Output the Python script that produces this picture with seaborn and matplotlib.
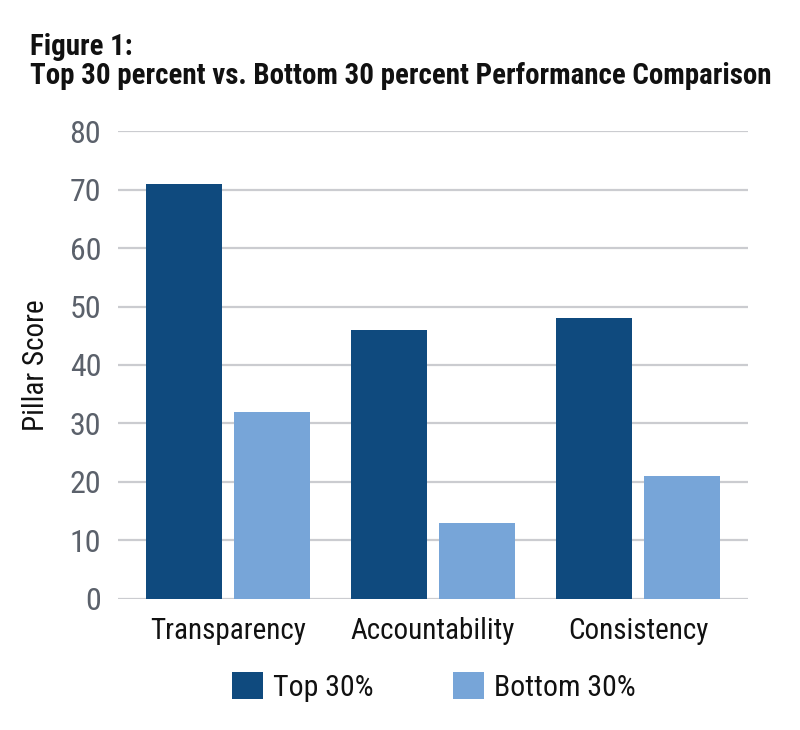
import matplotlib
matplotlib.use("Agg")
import matplotlib.pyplot as plt
import seaborn as sns
import pandas as pd
from matplotlib.patches import Patch
from matplotlib import font_manager as fm

categories = ["Transparency", "Accountability", "Consistency"]
groups = ["Top 30%", "Bottom 30%"]
top_values = [71, 46, 48]
bottom_values = [32, 13, 21]
y_ticks = [0, 10, 20, 30, 40, 50, 60, 70, 80]

colors = ["#0f4a7e", "#77a5d8"]

df = pd.DataFrame({
    "Pillar": categories * 2,
    "Group": [groups[0]] * 3 + [groups[1]] * 3,
    "Score": top_values + bottom_values,
})

# look for a condensed / narrow font installed on the system
def find_font(bold):
    keys = ["narrow", "condensed"]
    best = None
    for f in fm.fontManager.ttflist:
        fn = f.fname.lower()
        if not any(k in fn for k in keys):
            continue
        if "italic" in fn or "oblique" in fn:
            continue
        if any(k in fn for k in ["semibold", "light", "extra", "black", "medium", "thin"]):
            continue
        is_bold = "bold" in fn
        if is_bold == bold:
            pri = 0 if "liberation" in fn else (1 if "roboto" in fn else 2)
            if best is None or pri < best[0]:
                best = (pri, f.fname)
    return best[1] if best else None

reg_file = find_font(False)
bold_file = find_font(True)

sns.set_theme(style="white")
if reg_file:
    fp_reg = fm.FontProperties(fname=reg_file)
    fp_bold = fm.FontProperties(fname=bold_file) if bold_file else fm.FontProperties(fname=reg_file, weight="bold")
    plt.rcParams["font.family"] = [fp_reg.get_name(), "DejaVu Sans"]
else:
    plt.rcParams["font.family"] = ["Roboto", "DejaVu Sans"]
    fp_reg = fm.FontProperties(family=["Roboto", "DejaVu Sans"])
    fp_bold = fm.FontProperties(family=["Roboto", "DejaVu Sans"], weight="bold")

fig = plt.figure(figsize=(8, 7.3), dpi=100)
ax = fig.add_axes([0.1475, 0.1795, 0.7875, 0.641])

sns.barplot(data=df, x="Pillar", y="Score", hue="Group", order=categories,
            hue_order=groups, palette=colors, width=0.86, gap=0.14,
            saturation=1, ax=ax, legend=False, zorder=3, linewidth=0)

ax.set_ylim(0, 80)
ax.set_xlim(-0.537, 2.537)
ax.set_yticks(y_ticks)
ax.yaxis.grid(True, color="#cbccd0", linewidth=1.6, zorder=0)
ax.set_axisbelow(True)
for s in ax.spines.values():
    s.set_visible(False)
ax.tick_params(axis="both", length=0)
ax.tick_params(axis="y", labelcolor="#5b616b", pad=12)
ax.tick_params(axis="x", labelcolor="#111111", pad=13)
for lab in ax.get_yticklabels():
    lab.set_fontproperties(fp_reg)
    lab.set_fontsize(23)
for lab in ax.get_xticklabels():
    lab.set_fontproperties(fp_reg)
    lab.set_fontsize(21)
ax.set_xlabel("")
ax.set_ylabel("Pillar Score", fontproperties=fp_reg, fontsize=21, color="#111111", labelpad=14)

t1 = fig.text(0.0375, 0.925, "Figure 1:", fontproperties=fp_bold, fontsize=21, color="#111111")
t2 = fig.text(0.0375, 0.885, "Top 30 percent vs. Bottom 30 percent Performance Comparison",
              fontproperties=fp_bold, fontsize=21, color="#111111")
fig.canvas.draw()
w = t2.get_window_extent().width
if w > 742:
    s = 21 * 742 / w
    t1.set_fontsize(s)
    t2.set_fontsize(s)

fp_leg = fp_reg.copy()
fp_leg.set_size(21.5)
handles = [Patch(facecolor=c, edgecolor="none") for c in colors]
leg = fig.legend(handles, groups, loc="center", bbox_to_anchor=(0.5425, 0.059), ncol=2,
                 frameon=False, prop=fp_leg, handlelength=1.04, handleheight=1.04,
                 handletextpad=0.33, columnspacing=2.65, labelcolor="#111111")

fig.savefig("out.png", dpi=100)
